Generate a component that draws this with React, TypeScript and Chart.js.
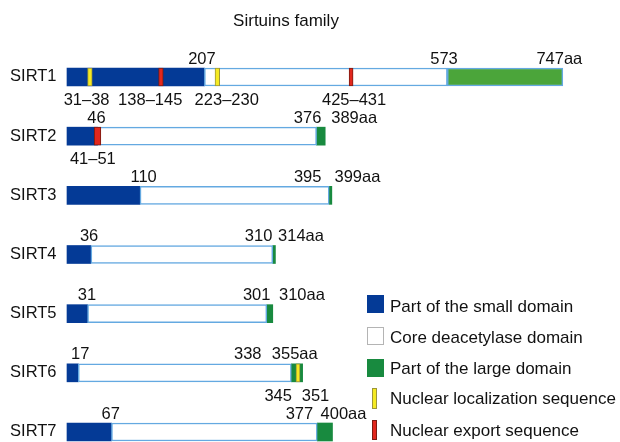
import React, { useEffect, useRef } from 'react';
import { Chart, registerables } from 'chart.js';

Chart.register(...registerables);

// ---------- data ----------
const proteins = ['SIRT1', 'SIRT2', 'SIRT3', 'SIRT4', 'SIRT5', 'SIRT6', 'SIRT7'];
const lengthAa = [747, 389, 399, 314, 310, 355, 400];
const smallDomainEnd = [207, 46, 110, 36, 31, 17, 67];
const largeDomainStart = [573, 376, 395, 310, 301, 338, 377];
// [row, start, end]
const nlsSites = [
  [0, 31, 38],
  [0, 223, 230],
  [5, 345, 351],
];
const nesSites = [
  [0, 138, 145],
  [0, 425, 431],
  [1, 41, 51],
];
const topLabels = [
  ['207', '573', '747aa'],
  ['46', '376', '389aa'],
  ['110', '395', '399aa'],
  ['36', '310', '314aa'],
  ['31', '301', '310aa'],
  ['17', '338', '355aa'],
  ['67', '377', '400aa'],
];
const bottomLabels = [
  ['31–38', '138–145', '223–230', '425–431'],
  ['41–51'],
  [],
  [],
  [],
  ['345', '351'],
  [],
];
const titleText = 'Sirtuins family';
const legendLabels = [
  'Part of the small domain',
  'Core deacetylase domain',
  'Part of the large domain',
  'Nuclear localization sequence',
  'Nuclear export sequence',
];

// ---------- style ----------
const FONT = '"Liberation Sans", Arial, Helvetica, sans-serif';
const C = {
  small: '#043a96',
  core: '#ffffff',
  largeFirst: '#4ba53a',
  large: '#188a3f',
  outline: '#64a9e1',
  nls: '#f5ea22',
  nlsBorder: '#9c963a',
  nes: '#e2271d',
  nesBorder: '#7c1b12',
  text: '#111111',
};
const topNudge = [
  [-2.5, -3.3, -3.5],
  [-1, -9, 29],
  [3.6, -21.5, 25.6],
  [-1.8, -14.2, 25.6],
  [-0.6, -10.1, 29.2],
  [2, -43.6, -7.9],
  [-0.7, -17.8, 11],
];
const bottomNudge = [[-3.3, -10.7, 9.4, 3], [-4.7], [], [], [], [-17.8, 15.5], []];
const legendMarks = [
  { x: 367, y: 295, w: 17, h: 18, fill: C.small, stroke: C.small },
  { x: 367, y: 327, w: 17, h: 18, fill: '#ffffff', stroke: '#b4b4b4' },
  { x: 367, y: 359, w: 17, h: 18, fill: C.large, stroke: C.large },
  { x: 372, y: 388, w: 5, h: 21, fill: C.nls, stroke: C.nlsBorder },
  { x: 372, y: 420, w: 5, h: 20, fill: C.nes, stroke: C.nesBorder },
];
const legendBaselines = [311.5, 342.5, 373.5, 404, 435.5];
const BAR_H = 18;

function anchorOf(t: string): number {
  const nums = (t.match(/\d+/g) || []).map(Number);
  return nums.length > 1 ? (nums[0] + nums[1]) / 2 : nums[0];
}

const common = {
  grouped: false,
  barThickness: BAR_H,
  borderSkipped: false,
  clip: false as any,
};

function siteDataset(site: number[], fill: string, stroke: string) {
  return {
    ...common,
    data: proteins.map((_, i) => (i === site[0] ? [site[1], site[2]] : null)),
    backgroundColor: fill,
    borderColor: stroke,
    borderWidth: 1,
    order: 0,
  };
}

const textPlugin = {
  id: 'sirtText',
  afterDraw(chart: any) {
    const { ctx } = chart;
    const x = chart.scales.x;
    const y = chart.scales.y;
    ctx.save();
    ctx.fillStyle = C.text;
    ctx.textBaseline = 'alphabetic';

    ctx.font = `17px ${FONT}`;
    ctx.textAlign = 'center';
    ctx.fillText(titleText, 286, 26);

    proteins.forEach((name, i) => {
      const cy = y.getPixelForValue(i);
      const x0 = x.getPixelForValue(0);
      ctx.font = `16.5px ${FONT}`;
      ctx.textAlign = 'right';
      ctx.fillText(name, x0 - 10.5, cy + 4.4);
      ctx.textAlign = 'center';
      topLabels[i].forEach((t, j) => {
        ctx.fillText(t, x.getPixelForValue(anchorOf(t)) + topNudge[i][j], cy - BAR_H / 2 - 4.5);
      });
      bottomLabels[i].forEach((t, j) => {
        ctx.fillText(t, x.getPixelForValue(anchorOf(t)) + bottomNudge[i][j], cy + BAR_H / 2 + 18.8);
      });
    });

    legendLabels.forEach((label, i) => {
      const m = legendMarks[i];
      ctx.fillStyle = m.fill;
      ctx.fillRect(m.x, m.y, m.w, m.h);
      ctx.strokeStyle = m.stroke;
      ctx.lineWidth = 1;
      ctx.strokeRect(m.x + 0.5, m.y + 0.5, m.w - 1, m.h - 1);
      ctx.fillStyle = C.text;
      ctx.font = `17px ${FONT}`;
      ctx.textAlign = 'left';
      ctx.fillText(label, 390, legendBaselines[i]);
    });
    ctx.restore();
  },
};

export default function App() {
  const ref = useRef<HTMLCanvasElement | null>(null);

  useEffect(() => {
    document.body.style.margin = '0';
    const canvas = ref.current;
    if (!canvas) return;

    const datasets: any[] = [
      ...nlsSites.map((s) => siteDataset(s, C.nls, C.nlsBorder)),
      ...nesSites.map((s) => siteDataset(s, C.nes, C.nesBorder)),
      {
        ...common,
        data: proteins.map((_, i) => [smallDomainEnd[i], largeDomainStart[i]]),
        backgroundColor: C.core,
        borderColor: C.outline,
        borderWidth: 1.5,
        order: 1,
      },
      {
        ...common,
        data: smallDomainEnd.map((e) => [0, e]),
        backgroundColor: C.small,
        borderWidth: 0,
        order: 2,
      },
      {
        ...common,
        data: proteins.map((_, i) => [largeDomainStart[i], lengthAa[i]]),
        backgroundColor: proteins.map((_, i) => (i === 0 ? C.largeFirst : C.large)),
        borderColor: C.outline,
        borderWidth: proteins.map((_, i) => (i === 0 ? 1.5 : 0)),
        order: 2,
      },
    ];

    const chart = new Chart(canvas, {
      type: 'bar',
      data: { labels: proteins, datasets },
      options: {
        indexAxis: 'y',
        animation: false,
        responsive: false,
        devicePixelRatio: 1,
        layout: { padding: { left: 67, right: 22, top: 77, bottom: 10 } },
        scales: {
          x: { type: 'linear', min: 0, max: 800, display: false },
          y: { type: 'category', offset: false, display: false },
        },
        plugins: {
          legend: { display: false },
          title: { display: false },
          tooltip: { enabled: false },
        },
      },
      plugins: [textPlugin],
    } as any);

    return () => chart.destroy();
  }, []);

  return <canvas ref={ref} width={620} height={442} style={{ display: 'block' }} />;
}
